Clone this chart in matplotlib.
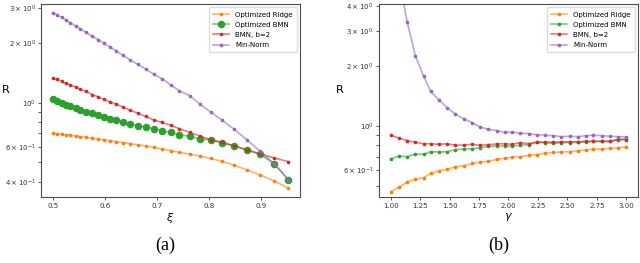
import matplotlib
matplotlib.use("Agg")
import matplotlib.pyplot as plt
from matplotlib.colors import to_rgba

# panel (a): R against xi
xi = [0.500, 0.508, 0.517, 0.525, 0.533, 0.544, 0.553, 0.564, 0.576, 0.587,
      0.598, 0.610, 0.622, 0.635, 0.649, 0.663, 0.678, 0.694, 0.710, 0.726,
      0.743, 0.763, 0.782, 0.803, 0.824, 0.847, 0.872, 0.898, 0.925, 0.952]
ridge_a = [0.702, 0.698, 0.694, 0.690, 0.686, 0.680, 0.675, 0.669, 0.663, 0.657,
           0.651, 0.644, 0.637, 0.630, 0.622, 0.614, 0.606, 0.596, 0.585, 0.574,
           0.563, 0.551, 0.539, 0.524, 0.507, 0.485, 0.460, 0.433, 0.403, 0.371]
bmn_opt_a = [1.044, 1.015, 0.997, 0.977, 0.958, 0.936, 0.919, 0.901, 0.884, 0.863,
             0.848, 0.831, 0.815, 0.803, 0.784, 0.766, 0.755, 0.740, 0.723, 0.709,
             0.690, 0.677, 0.659, 0.649, 0.629, 0.606, 0.578, 0.550, 0.492, 0.409]
bmn2_a = [1.33, 1.31, 1.28, 1.25, 1.23, 1.20, 1.17, 1.14, 1.10, 1.07,
          1.04, 1.01, 0.982, 0.950, 0.916, 0.885, 0.853, 0.819, 0.795, 0.770,
          0.740, 0.709, 0.680, 0.652, 0.632, 0.608, 0.580, 0.552, 0.527, 0.505]
minnorm_a = [2.84, 2.77, 2.69, 2.61, 2.53, 2.44, 2.35, 2.26, 2.16, 2.08,
             1.99, 1.91, 1.82, 1.73, 1.64, 1.56, 1.48, 1.39, 1.32, 1.23,
             1.149, 1.084, 0.985, 0.898, 0.819, 0.738, 0.652, 0.569, 0.492, 0.410]

# panel (b): R against gamma
gamma = [1.00, 1.07, 1.14, 1.21, 1.28, 1.34, 1.41, 1.48, 1.55, 1.62,
         1.69, 1.76, 1.83, 1.90, 1.97, 2.03, 2.10, 2.17, 2.24, 2.31,
         2.38, 2.45, 2.52, 2.59, 2.66, 2.72, 2.79, 2.86, 2.93, 3.00]
ridge_b = [0.468, 0.492, 0.525, 0.541, 0.550, 0.578, 0.596, 0.606, 0.624, 0.630,
           0.649, 0.659, 0.664, 0.680, 0.688, 0.696, 0.701, 0.712, 0.718, 0.729,
           0.737, 0.740, 0.743, 0.751, 0.758, 0.764, 0.766, 0.772, 0.778, 0.787]
bmn_opt_b = [0.683, 0.707, 0.701, 0.723, 0.720, 0.743, 0.740, 0.743, 0.760, 0.766,
             0.769, 0.778, 0.790, 0.793, 0.793, 0.793, 0.800, 0.806, 0.828, 0.825,
             0.818, 0.825, 0.825, 0.828, 0.831, 0.837, 0.837, 0.837, 0.850, 0.863]
bmn2_b = [0.898, 0.870, 0.844, 0.828, 0.815, 0.815, 0.809, 0.815, 0.800, 0.803,
          0.809, 0.800, 0.806, 0.812, 0.815, 0.809, 0.825, 0.815, 0.831, 0.828,
          0.831, 0.834, 0.834, 0.834, 0.837, 0.837, 0.837, 0.837, 0.857, 0.850]
minnorm_b = [9.5, 5.5, 3.34, 2.25, 1.78, 1.49, 1.35, 1.236, 1.145, 1.088,
             1.039, 0.988, 0.962, 0.947, 0.930, 0.930, 0.922, 0.915, 0.904, 0.900,
             0.894, 0.884, 0.888, 0.884, 0.894, 0.898, 0.894, 0.888, 0.884, 0.880]

labels = ["Optimized Ridge", "Optimized BMN", "BMN, b=2", "Min-Norm"]
colors = ["#ff7f0e", "#2ca02c", "#d62728", "#9467bd"]

fig = plt.figure(figsize=(6.4, 2.63), dpi=100)
ax_a = fig.add_axes([0.064, 0.251, 0.405, 0.734])
ax_b = fig.add_axes([0.592, 0.251, 0.405, 0.734])


def draw(ax, x, series, green_big):
    for i, (y, lab, c) in enumerate(zip(series, labels, colors)):
        big = green_big and i == 1
        ax.plot(x, y, color=to_rgba(c, 0.6), lw=1.2, marker="o",
                ms=4.4 if big else 1.6, mfc=c, mec=c, label=lab)
    ax.set_yscale("log")
    ax.tick_params(which="both", labelsize=5, length=2, width=0.6,
                   colors="0.25", labelcolor="0.2", pad=2)
    for s in ax.spines.values():
        s.set_linewidth(0.8)
        s.set_color("0.3")
    ax.legend(loc="upper right", fontsize=5, handlelength=2.4,
              borderpad=0.6, labelspacing=0.6, framealpha=0.9,
              edgecolor="0.85")
    ax.set_ylabel("R", rotation=0, fontsize=8)


draw(ax_a, xi, [ridge_a, bmn_opt_a, bmn2_a, minnorm_a], True)
ax_a.set_xlabel(r"$\xi$", fontsize=8, labelpad=2)
ax_a.yaxis.set_label_coords(-0.135, 0.53)

draw(ax_b, gamma, [ridge_b, bmn_opt_b, bmn2_b, minnorm_b], False)
ax_b.set_ylim(0.44, 4.1)
ax_b.set_xlabel(r"$\gamma$", fontsize=8, labelpad=2)
ax_b.yaxis.set_label_coords(-0.15, 0.53)

fig.text(0.258, 0.068, "(a)", ha="center", va="center",
         fontsize=13, family="Liberation Serif")
fig.text(0.78, 0.068, "(b)", ha="center", va="center",
         fontsize=13, family="Liberation Serif")

fig.savefig("out.png", dpi=100)
